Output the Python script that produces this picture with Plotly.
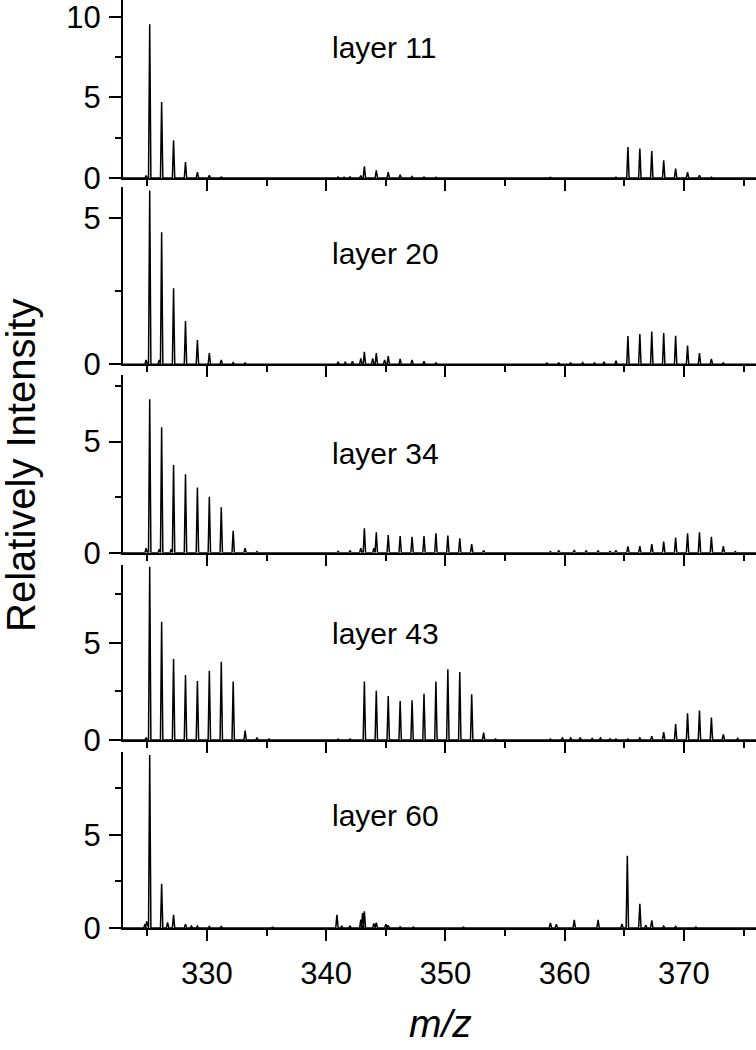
import plotly.graph_objects as go

# ---------------- data ----------------
layers = ["layer 11", "layer 20", "layer 34", "layer 43", "layer 60"]

mz_11 = [324.9, 325.2, 326.2, 327.2, 328.2, 329.2, 330.2, 331.2, 341.0, 341.5, 342.0, 342.9,
         343.2, 344.2, 345.2, 346.2, 347.2, 348.2, 349.2, 358.8, 362.0, 364.3, 365.3, 366.3,
         367.3, 368.3, 369.3, 370.3, 371.3, 372.3]
int_11 = [0.15, 9.55, 4.72, 2.34, 0.99, 0.37, 0.17, 0.06, 0.06, 0.05, 0.07, 0.15,
          0.73, 0.48, 0.37, 0.2, 0.1, 0.06, 0.05, 0.04, 0.04, 0.05, 1.93, 1.83,
          1.68, 1.10, 0.58, 0.37, 0.17, 0.05]

mz_20 = [324.9, 325.2, 326.0, 326.2, 327.2, 328.2, 329.2, 330.2, 331.2, 332.2, 333.2, 341.0,
         341.6, 342.2, 342.9, 343.2, 343.9, 344.2, 344.9, 345.2, 346.2, 347.2, 348.2, 349.2,
         358.5, 359.5, 360.5, 361.5, 362.5, 363.3, 364.3, 365.3, 366.3, 367.3, 368.3, 369.3,
         370.3, 371.3, 372.3, 373.3]
int_20 = [0.15, 5.95, 0.15, 4.52, 2.60, 1.48, 0.83, 0.38, 0.15, 0.06, 0.05, 0.08,
          0.08, 0.1, 0.2, 0.43, 0.2, 0.38, 0.15, 0.28, 0.18, 0.15, 0.1, 0.05,
          0.04, 0.05, 0.05, 0.06, 0.05, 0.08, 0.12, 0.97, 1.04, 1.12, 1.07, 0.98,
          0.64, 0.38, 0.18, 0.05]

mz_34 = [324.9, 325.2, 326.0, 326.2, 327.0, 327.2, 328.2, 329.2, 330.2, 331.2, 332.2, 333.2,
         334.2, 341.0, 342.0, 342.9, 343.2, 344.0, 344.2, 345.2, 346.2, 347.2, 348.2, 349.2,
         350.2, 351.2, 352.2, 353.2, 358.8, 359.5, 360.8, 361.8, 362.8, 363.8, 364.3, 365.3,
         366.3, 367.3, 368.3, 369.3, 370.3, 371.3, 372.3, 373.3, 374.3]
int_34 = [0.2, 6.91, 0.15, 5.65, 0.15, 3.95, 3.53, 2.94, 2.52, 2.04, 0.99, 0.2,
          0.05, 0.06, 0.08, 0.2, 1.1, 0.2, 0.92, 0.8, 0.75, 0.72, 0.75, 0.87,
          0.77, 0.65, 0.39, 0.1, 0.05, 0.1, 0.12, 0.08, 0.08, 0.06, 0.1, 0.28,
          0.3, 0.39, 0.5, 0.68, 0.87, 0.92, 0.72, 0.3, 0.05]

mz_43 = [324.9, 325.2, 326.2, 327.2, 328.2, 329.2, 330.2, 331.2, 332.2, 333.2, 334.2, 335.2,
         341.0, 342.0, 343.2, 344.2, 345.2, 346.2, 347.2, 348.2, 349.2, 350.2, 351.2, 352.2,
         353.2, 354.2, 358.8, 359.8, 360.5, 361.3, 362.3, 363.0, 363.8, 364.3, 365.3, 366.3,
         367.3, 368.3, 369.3, 370.3, 371.3, 372.3, 373.3, 374.5]
int_43 = [0.1, 8.90, 6.08, 4.16, 3.34, 3.03, 3.56, 4.02, 3.00, 0.48, 0.12, 0.05,
          0.04, 0.05, 3.00, 2.53, 2.26, 2.00, 2.04, 2.38, 3.00, 3.63, 3.49, 2.35,
          0.38, 0.05, 0.05, 0.1, 0.1, 0.12, 0.08, 0.1, 0.06, 0.05, 0.05, 0.1,
          0.2, 0.41, 0.82, 1.37, 1.52, 1.15, 0.29, 0.08]

mz_60 = [324.8, 324.95, 325.2, 326.2, 326.7, 327.2, 328.2, 328.7, 329.2, 330.2, 331.2, 335.5,
         340.9, 341.3, 342.0, 342.9, 343.05, 343.2, 344.0, 344.2, 345.0, 345.2, 346.2, 347.3,
         351.5, 355.5, 358.8, 359.3, 360.8, 362.8, 364.8, 365.25, 366.3, 366.8, 367.3, 368.3,
         369.3, 371.0]
int_60 = [0.2, 0.35, 9.28, 2.37, 0.3, 0.71, 0.2, 0.1, 0.1, 0.08, 0.08, 0.04,
          0.71, 0.12, 0.1, 0.45, 0.8, 0.9, 0.25, 0.28, 0.2, 0.15, 0.06, 0.05,
          0.04, 0.04, 0.27, 0.2, 0.44, 0.44, 0.22, 3.87, 1.30, 0.15, 0.41, 0.1,
          0.08, 0.05]

peak_mz = [mz_11, mz_20, mz_34, mz_43, mz_60]
peak_int = [int_11, int_20, int_34, int_43, int_60]

x_range = [322.96, 376.04]
y_tops = [11.05, 6.07, 8.0, 8.99, 9.44]
y_major = [[0, 5, 10], [0, 5], [0, 5], [0, 5], [0, 5]]
x_major = [330, 340, 350, 360, 370]

# ---------------- layout geometry (pixels) ----------------
W, H = 756, 1050
ML, MR, MT, MB = 123, 0, 0, 122
plot_h = H - MT - MB
panel_px = [(0, 178), (187, 364.3), (375, 552.7), (565, 740), (752, 928)]
label_py = [48, 253, 453, 633, 815]


def pfrac(ypx):
    return (plot_h - ypx) / plot_h


FONT = "Liberation Sans, Arial, Helvetica, sans-serif"
HW = 0.1  # half width of a drawn peak (in m/z)

fig = go.Figure()
for i in range(5):
    xs, ys = [x_range[0]], [0.0]
    for m, h in sorted(zip(peak_mz[i], peak_int[i])):
        xs += [m - HW, m, m + HW]
        ys += [0.0, h, 0.0]
    xs.append(x_range[1])
    ys.append(0.0)
    sfx = "" if i == 0 else str(i + 1)
    fig.add_trace(go.Scatter(x=xs, y=ys, mode="lines",
                             line=dict(color="black", width=1.5),
                             xaxis="x" + sfx, yaxis="y" + sfx,
                             showlegend=False, hoverinfo="skip"))
    top, bot = panel_px[i]
    fig.layout["xaxis" + sfx] = dict(
        domain=[0, 1], anchor="y" + sfx, range=x_range,
        showline=True, linecolor="black", linewidth=2,
        ticks="outside", ticklen=11, tickwidth=2, tickcolor="black",
        tickvals=x_major, showticklabels=(i == 4), ticklabelstandoff=6,
        ticklabeloverflow="allow",
        tickfont=dict(family=FONT, size=31, color="black"),
        minor=dict(dtick=5, tick0=0, ticks="outside", ticklen=6, tickwidth=2, tickcolor="black"),
        showgrid=False, zeroline=False, mirror=False,
        **({} if i == 0 else {"matches": "x"}))
    fig.layout["yaxis" + sfx] = dict(
        domain=[pfrac(bot), pfrac(top)], anchor="x" + sfx, range=[0, y_tops[i]],
        showline=True, linecolor="black", linewidth=2,
        ticks="outside", ticklen=12, tickwidth=2, tickcolor="black",
        tickvals=y_major[i], ticklabelstandoff=2, ticklabeloverflow="allow",
        tickfont=dict(family=FONT, size=31, color="black"),
        minor=dict(dtick=2.5, tick0=0, ticks="outside", ticklen=6, tickwidth=2, tickcolor="black"),
        showgrid=False, zeroline=False)
    fig.add_annotation(text=layers[i], xref="x" + sfx, yref="paper",
                       x=340.3, y=pfrac(label_py[i]), xanchor="left", yanchor="middle",
                       showarrow=False, font=dict(family=FONT, size=30, color="black"))

fig.add_annotation(text="Relatively Intensity", xref="paper", yref="paper",
                   x=(21 - ML) / (W - ML - MR), y=pfrac(466), textangle=-90,
                   xanchor="center", yanchor="middle", showarrow=False,
                   font=dict(family=FONT, size=40, color="black"))
fig.add_annotation(text="<i>m/z</i>", xref="paper", yref="paper",
                   x=(440 - ML) / (W - ML - MR), y=pfrac(1023),
                   xanchor="center", yanchor="middle", showarrow=False,
                   font=dict(family=FONT, size=39, color="black"))

fig.update_layout(width=W, height=H, margin=dict(l=ML, r=MR, t=MT, b=MB, pad=0),
                  paper_bgcolor="white", plot_bgcolor="white", showlegend=False)

fig.write_html("out.html", config={"displayModeBar": False},
               post_script="document.body.style.margin='0';document.body.style.overflow='hidden';")
